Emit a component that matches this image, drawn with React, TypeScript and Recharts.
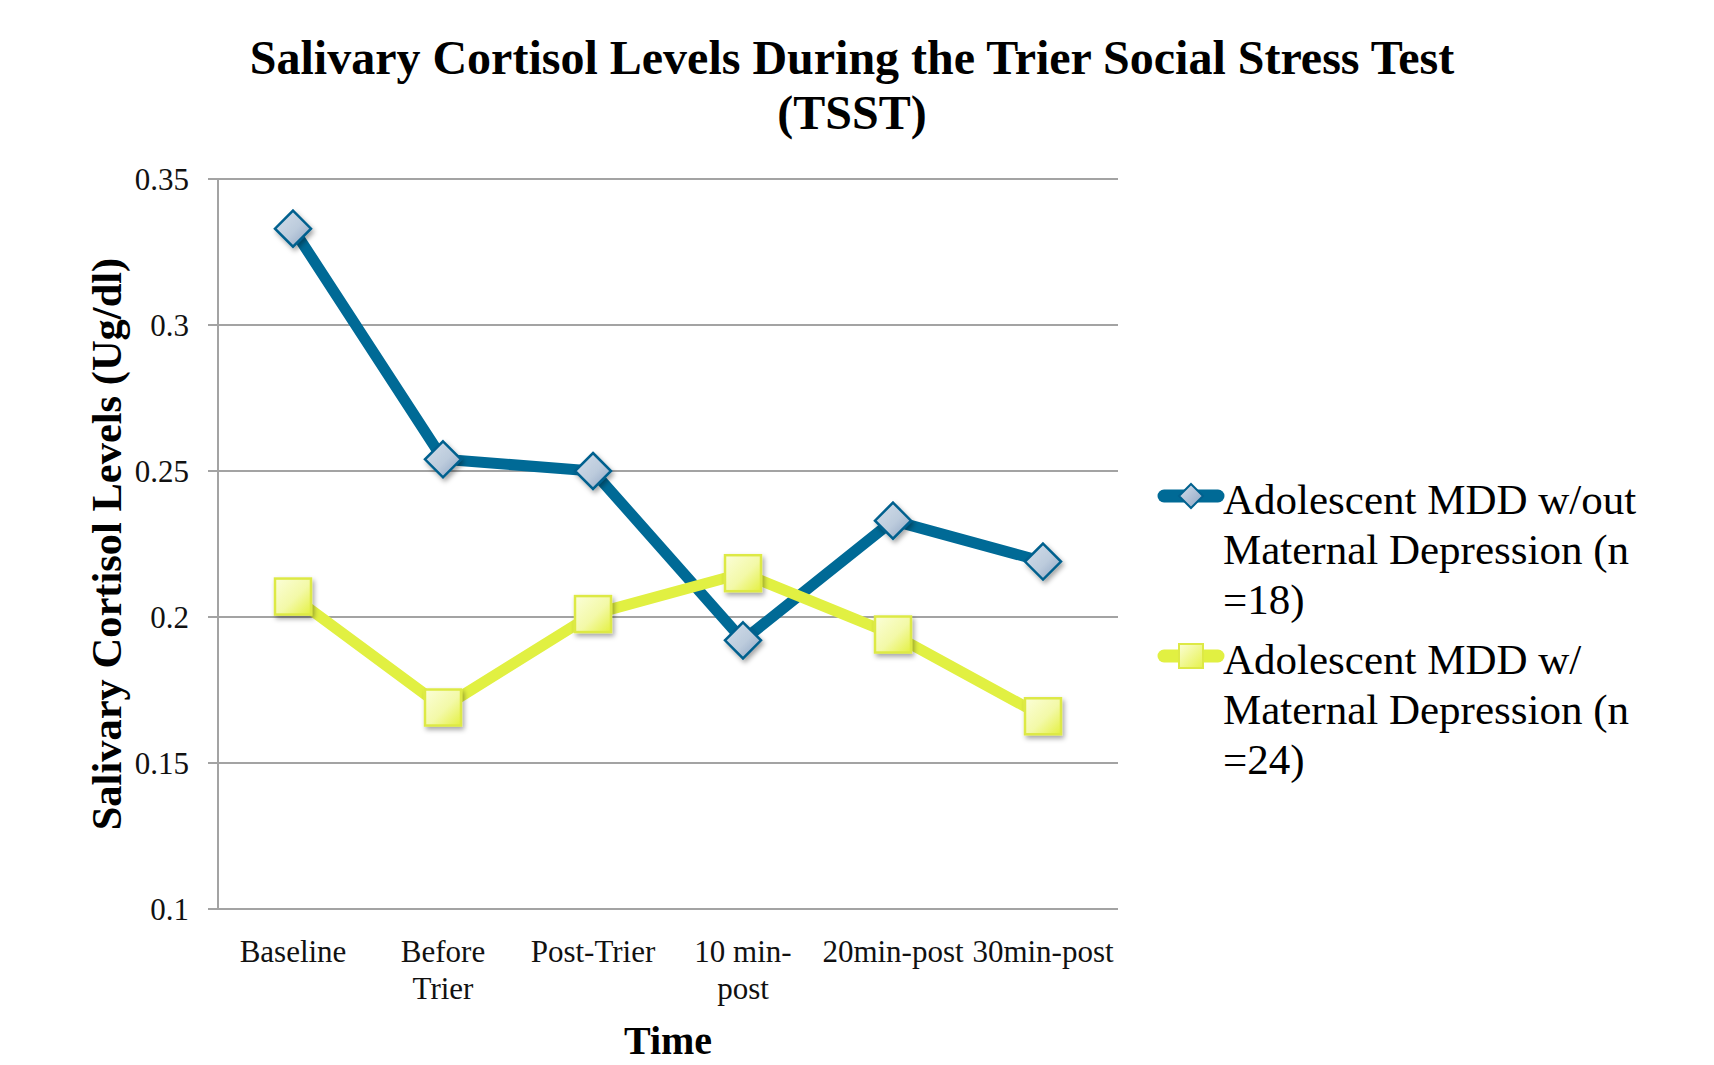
import { LineChart, Line, XAxis, YAxis, CartesianGrid } from "recharts";

const categories = ["Baseline", "Before Trier", "Post-Trier", "10 min-post", "20min-post", "30min-post"];
const tickLines = [["Baseline"], ["Before", "Trier"], ["Post-Trier"], ["10 min-", "post"], ["20min-post"], ["30min-post"]];
const withoutMaternal = [0.333, 0.254, 0.25, 0.192, 0.233, 0.219];
const withMaternal = [0.207, 0.169, 0.201, 0.215, 0.194, 0.166];
const yTicks = [0.1, 0.15, 0.2, 0.25, 0.3, 0.35];

const seriesNames = [
  "Adolescent MDD w/out Maternal Depression (n =18)",
  "Adolescent MDD w/ Maternal Depression (n =24)",
];
const legendLines = [
  ["Adolescent MDD w/out", "Maternal Depression (n", "=18)"],
  ["Adolescent MDD w/", "Maternal Depression (n", "=24)"],
];

const FONT = '"Liberation Serif", "Times New Roman", serif';
const BLUE = "#006a96";
const YELLOW = "#e1f042";
const GRID = "#a3a3a3";

const data = categories.map((c, i) => ({
  time: c,
  without: withoutMaternal[i],
  with: withMaternal[i],
}));

function DiamondDot(props: any) {
  const { cx, cy, index } = props;
  const r = 18;
  return (
    <path
      key={`dm-${index}`}
      d={`M${cx},${cy - r}L${cx + r},${cy}L${cx},${cy + r}L${cx - r},${cy}Z`}
      fill="url(#diamondFill)"
      stroke="#00618e"
      strokeWidth={2.5}
      filter="url(#markShadow)"
    />
  );
}

function SquareDot(props: any) {
  const { cx, cy, index } = props;
  const h = 18;
  return (
    <rect
      key={`sq-${index}`}
      x={cx - h}
      y={cy - h}
      width={h * 2}
      height={h * 2}
      fill="url(#squareFill)"
      stroke="#dde945"
      strokeWidth={2.5}
      filter="url(#markShadow)"
    />
  );
}

function TimeTick(props: any) {
  const { x, y, payload } = props;
  const idx = categories.indexOf(payload.value);
  const lines = idx >= 0 ? tickLines[idx] : [payload.value];
  return (
    <text x={x} y={y} textAnchor="middle" fontFamily={FONT} fontSize={31} fill="#111">
      {lines.map((l: string, i: number) => (
        <tspan key={i} x={x} dy={i === 0 ? 53 : 37}>
          {l}
        </tspan>
      ))}
    </text>
  );
}

function LegendIcon({ kind }: { kind: number }) {
  return (
    <svg width={68} height={30} style={{ position: "absolute", left: 0, top: 6 }}>
      <defs>
        <linearGradient id={`lg${kind}`} x1="0" y1="0" x2="1" y2="1">
          <stop offset="0%" stopColor={kind === 0 ? "#d6e0ec" : "#fbfed6"} />
          <stop offset="100%" stopColor={kind === 0 ? "#8ca3c2" : "#e6f24c"} />
        </linearGradient>
      </defs>
      <line x1={7} y1={15} x2={61} y2={15} stroke={kind === 0 ? BLUE : YELLOW} strokeWidth={13} strokeLinecap="round" />
      {kind === 0 ? (
        <path d="M34,3L46,15L34,27L22,15Z" fill={`url(#lg${kind})`} stroke="#00618e" strokeWidth={2} />
      ) : (
        <rect x={22} y={3} width={24} height={24} fill={`url(#lg${kind})`} stroke="#dde945" strokeWidth={2} />
      )}
    </svg>
  );
}

export default function App() {
  return (
    <div style={{ position: "absolute", left: 0, top: 0, width: 1714, height: 1065, background: "#fff" }}>
      <div
        style={{
          position: "absolute",
          left: 0,
          top: 30,
          width: 1704,
          textAlign: "center",
          fontFamily: FONT,
          fontWeight: "bold",
          fontSize: 48,
          lineHeight: "55px",
          color: "#000",
        }}
      >
        Salivary Cortisol Levels During the Trier Social Stress Test
        <br />
        (TSST)
      </div>

      <LineChart
        width={1714}
        height={1065}
        data={data}
        margin={{ top: 179, right: 596, bottom: 56, left: 118 }}
        style={{ position: "absolute", left: 0, top: 0 }}
      >
        <defs>
          <linearGradient id="diamondFill" x1="0" y1="0" x2="1" y2="1">
            <stop offset="0%" stopColor="#d3deea" />
            <stop offset="55%" stopColor="#bccbdc" />
            <stop offset="100%" stopColor="#8aa1c1" />
          </linearGradient>
          <linearGradient id="squareFill" x1="0" y1="0" x2="1" y2="1">
            <stop offset="0%" stopColor="#fbfed8" />
            <stop offset="55%" stopColor="#f3f9a8" />
            <stop offset="100%" stopColor="#e4f040" />
          </linearGradient>
          <filter id="markShadow" x="-50%" y="-50%" width="200%" height="200%">
            <feDropShadow dx={2} dy={3} stdDeviation={2.5} floodColor="#000" floodOpacity={0.35} />
          </filter>
        </defs>
        <CartesianGrid vertical={false} stroke={GRID} strokeWidth={2} />
        <XAxis
          dataKey="time"
          height={100}
          padding={{ left: 75, right: 75 }}
          tickLine={false}
          tickSize={0}
          tickMargin={0}
          axisLine={{ stroke: GRID, strokeWidth: 2 }}
          tick={<TimeTick />}
          interval={0}
          label={({ viewBox }: any) => (
            <text
              x={viewBox.x + viewBox.width / 2}
              y={1054}
              textAnchor="middle"
              fontFamily={FONT}
              fontWeight="bold"
              fontSize={40}
              fill="#000"
            >
              Time
            </text>
          )}
        />
        <YAxis
          width={100}
          domain={[0.1, 0.35]}
          ticks={yTicks}
          interval={0}
          tickSize={10}
          tickMargin={19}
          tickLine={{ stroke: GRID, strokeWidth: 2 }}
          axisLine={{ stroke: GRID, strokeWidth: 2 }}
          tick={{ fontFamily: FONT, fontSize: 31, fill: "#111" }}
          label={({ viewBox }: any) => {
            const cx = viewBox.x - 12;
            const cy = viewBox.y + viewBox.height / 2;
            return (
              <text
                x={cx}
                y={cy}
                transform={`rotate(-90, ${cx}, ${cy})`}
                textAnchor="middle"
                dominantBaseline="central"
                fontFamily={FONT}
                fontWeight="bold"
                fontSize={42.5}
                fill="#000"
              >
                Salivary Cortisol Levels (Ug/dl)
              </text>
            );
          }}
        />
        <Line
          type="linear"
          dataKey="without"
          name={seriesNames[0]}
          stroke={BLUE}
          strokeWidth={11}
          dot={DiamondDot}
          activeDot={false}
          isAnimationActive={false}
        />
        <Line
          type="linear"
          dataKey="with"
          name={seriesNames[1]}
          stroke={YELLOW}
          strokeWidth={11}
          dot={SquareDot}
          activeDot={false}
          isAnimationActive={false}
        />
      </LineChart>

      {legendLines.map((lines, k) => (
        <div
          key={k}
          style={{
            position: "absolute",
            left: 1157,
            top: 475 + k * 160,
            width: 540,
            height: 150,
            fontFamily: FONT,
            fontSize: 43,
            lineHeight: "50px",
            color: "#000",
          }}
        >
          <LegendIcon kind={k} />
          <div style={{ marginLeft: 66 }}>
            {lines.map((l, i) => (
              <div key={i} style={{ whiteSpace: "nowrap" }}>
                {l}
              </div>
            ))}
          </div>
        </div>
      ))}
    </div>
  );
}
